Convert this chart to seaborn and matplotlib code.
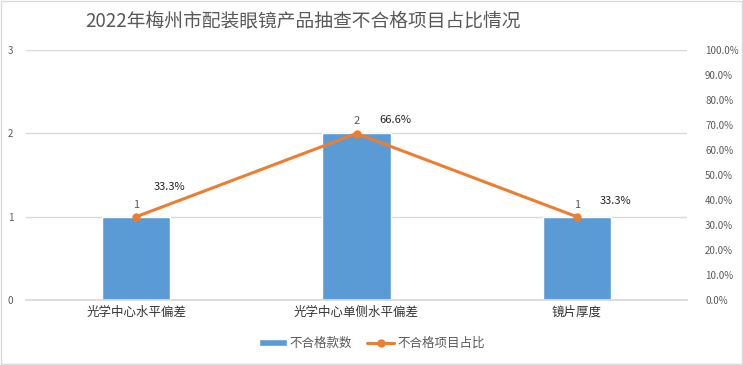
import numpy as np
import pandas as pd
import seaborn as sns
import matplotlib.pyplot as plt
from matplotlib.lines import Line2D
from matplotlib.patches import Patch, Rectangle

# data
categories = ['光学中心水平偏差', '光学中心单侧水平偏差', '镜片厚度']
fail_counts = [1, 2, 1]
fail_ratio = [0.333, 0.666, 0.333]
ratio_labels = ['33.3%', '66.6%', '33.3%']

sns.set_theme(style='white')
plt.rcParams['font.family'] = ['Noto Sans CJK SC', 'DejaVu Sans']

bar_color = '#5B9BD5'
line_color = '#ED7D31'
grey = '#595959'

fig = plt.figure(figsize=(7.43, 3.65), dpi=100)
ax = fig.add_axes([26/743, 1 - 300/365, (687 - 26)/743, 250/365])

df = pd.DataFrame({'cat': categories, 'count': fail_counts, 'ratio': fail_ratio})
sns.barplot(data=df, x='cat', y='count', color=bar_color, width=0.31,
            saturation=1, ax=ax)
ax.set_ylim(0, 3)
ax.set_xlim(-0.5, 2.5)
ax.set_yticks([0, 1, 2, 3])
ax.yaxis.grid(True, color='#D9D9D9', lw=1)
ax.set_axisbelow(True)
for s in ax.spines.values():
    s.set_visible(False)
ax.spines['bottom'].set_visible(True)
ax.spines['bottom'].set_color('#D9D9D9')
ax.set_xlabel('')
ax.set_ylabel('')
ax.tick_params(axis='y', colors=grey, labelsize=7, length=0, pad=9)
ax.tick_params(axis='x', colors='#333333', labelsize=9, length=0, pad=4)

# count labels above bars
for i, v in enumerate(fail_counts):
    ax.annotate(str(v), (i, v), xytext=(0, 5), textcoords='offset points',
                ha='center', va='bottom', fontsize=8, color=grey)

ax2 = ax.twinx()
sns.lineplot(data=df, x='cat', y='ratio', color=line_color, lw=2.2,
             marker='o', markersize=6, markeredgewidth=0, sort=False, ax=ax2)
ax2.set_ylim(0, 1)
ax2.set_yticks(np.arange(0, 1.01, 0.1))
ax2.set_yticklabels([f'{t*100:.1f}%' for t in np.arange(0, 1.01, 0.1)])
ax2.tick_params(axis='y', colors=grey, labelsize=7, length=0, pad=13)
ax2.set_ylabel('')
for s in ax2.spines.values():
    s.set_visible(False)

offsets = [(24, 18), (28, 6), (28, 8)]
for i, (v, lab) in enumerate(zip(fail_ratio, ratio_labels)):
    ax2.annotate(lab, (i, v), xytext=offsets[i], textcoords='offset points',
                 ha='center', va='bottom', fontsize=8, color='#222222')

fig.text(85/743, 1 - 22/365, '2022年梅州市配装眼镜产品抽查不合格项目占比情况',
         fontsize=13.5, color=grey, va='center', ha='left')

handles = [Patch(facecolor=bar_color, label='不合格款数'),
           Line2D([0], [0], color=line_color, lw=2.2, marker='o', markersize=5,
                  label='不合格项目占比')]
fig.legend(handles=handles, loc='center', bbox_to_anchor=(372/743, 1 - 343/365),
           ncol=2, frameon=False, fontsize=9, handlelength=2.2,
           handleheight=0.5, handletextpad=0.2, columnspacing=1.2,
           labelcolor=grey)

fig.patches.append(Rectangle((0.001, 0.002), 0.997, 0.995, transform=fig.transFigure,
                             fill=False, edgecolor='#D9D9D9', lw=1))

fig.savefig('out.png', dpi=100)
